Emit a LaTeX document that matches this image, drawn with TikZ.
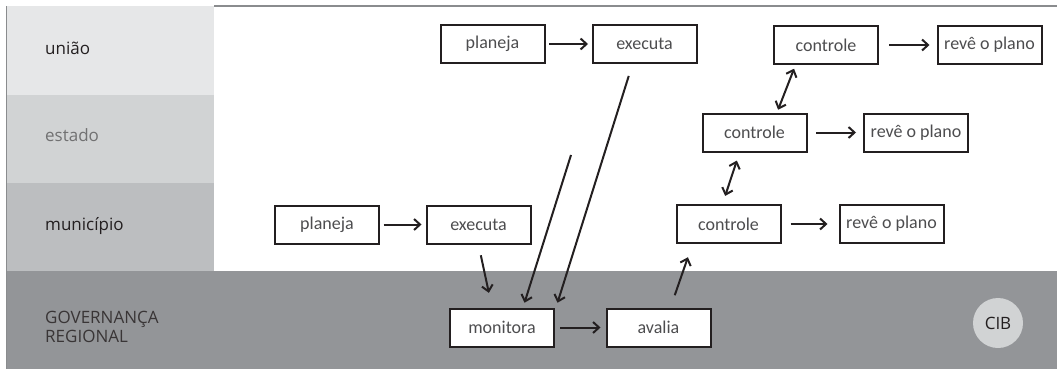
\documentclass[tikz,border=0pt]{standalone}
\usepackage{fontspec}
\setmainfont{Open Sans}
\newfontfamily\boxfont{Carlito}
\usetikzlibrary{arrows.meta,calc}

\definecolor{bandU}{HTML}{E6E7E8}
\definecolor{bandE}{HTML}{D1D3D4}
\definecolor{bandM}{HTML}{BCBEC0}
\definecolor{bandG}{HTML}{939598}
\definecolor{frame}{HTML}{8A8C8E}
\definecolor{ink}{HTML}{231F20}
\definecolor{boxtext}{HTML}{4D4D4F}

\tikzset{
	stage/.style={draw=ink, line width=2pt, fill=white, minimum width=104pt, minimum height=38pt,
		inner sep=0pt, text=boxtext, font=\boxfont\fontsize{18}{18}\selectfont},
	flow/.style={draw=ink, line width=2pt, -{Straight Barb[length=6pt,width=11pt]}},
	twoway/.style={flow, {Straight Barb[length=6pt,width=11pt]}-{Straight Barb[length=6pt,width=11pt]}},
	level/.style={anchor=west, align=left, inner sep=0pt, font=\fontsize{17}{19.5}\selectfont}
}

\begin{document}
\begin{tikzpicture}[x=1pt, y=-1pt]
	\useasboundingbox (0,0) rectangle (1057,369);
	% Bands
	\fill[bandU] (7,6) rectangle (214,95);
	\fill[bandE] (7,95) rectangle (214,183);
	\fill[bandM] (7,183) rectangle (214,271);
	\fill[bandG] (7,271) rectangle (1057,369);
	\draw[frame, line width=1.5pt] (6.5,369) -- (6.5,5.75);
	\draw[frame, line width=1.5pt] (214,6) -- (1057,6);

	% Level labels
	\node[level, text=ink] (uniao) at (45,48) {união};
	\node[level, text=boxtext!80] (estado) at (45,135) {estado};
	\node[level, text=ink] (municipio) at (45,226) {município};
	\node[level, text=ink!90] (governanca) at (45,327) {GOVERNANÇA\\REGIONAL};

	% Define the boxes with specific positions
	\node[stage] (planU) at (492.5,44) {planeja};
	\node[stage] (execU) at (644.5,44) {executa};
	\node[stage] (ctrlU) at (826,45) {controle};
	\node[stage] (revU) at (989.5,45) {revê o plano};
	\node[stage] (ctrlE) at (754.5,132.5) {controle};
	\node[stage] (revE) at (916,132.5) {revê o plano};
	\node[stage] (planM) at (327,224.5) {planeja};
	\node[stage] (execM) at (478.5,224.5) {executa};
	\node[stage] (ctrlM) at (728.5,224) {controle};
	\node[stage] (revM) at (891.5,224) {revê o plano};
	\node[stage] (mon) at (502,327.5) {monitora};
	\node[stage] (aval) at (658.5,327.5) {avalia};
	\node[circle, fill=bandE, minimum size=50pt, inner sep=0pt, text=ink,
		font=\fontsize{17}{17}\selectfont] (cib) at (998,323) {CIB};
	\coordinate (estTail) at (571,155);

	% Draw the connectors between boxes
	\draw[flow, shorten <=3.5pt, shorten >=3.5pt] (planU) -- (execU);
	\draw[flow, shorten <=10pt, shorten >=7pt] (ctrlU) -- (revU);
	\draw[flow, shorten <=8.5pt, shorten >=7pt] (ctrlE) -- (revE);
	\draw[flow, shorten <=9pt, shorten >=11pt] (ctrlM) -- (revM);
	\draw[flow, shorten <=3.5pt, shorten >=4pt] (planM) -- (execM);
	\draw[flow, shorten <=5pt, shorten >=5pt] (mon) -- (aval);
	\draw[flow, shorten <=11pt, shorten >=15pt] (execM.south) -- ($(mon.north)+(-10,0)$);
	\draw[flow, shorten <=12.5pt, shorten >=5pt] ($(execU.south)+(-12,0)$) -- ($(mon.north east)+(1,0)$);
	\draw[flow, shorten >=5pt] (estTail) -- ($(mon.north)+(21,0)$);
	\draw[flow, shorten <=13pt, shorten >=14pt] ($(aval.north)+(12,0)$) -- ($(ctrlM.south)+(-36,0)$);
	\draw[twoway, shorten <=8.5pt, shorten >=8.5pt] ($(ctrlM.north)+(-6,0)$) -- ($(ctrlE.south)+(-15,0)$);
	\draw[twoway, shorten <=3pt, shorten >=4pt] ($(ctrlE.north)+(22.5,0)$) -- ($(ctrlU.south)+(-30.5,0)$);
\end{tikzpicture}
\end{document}
